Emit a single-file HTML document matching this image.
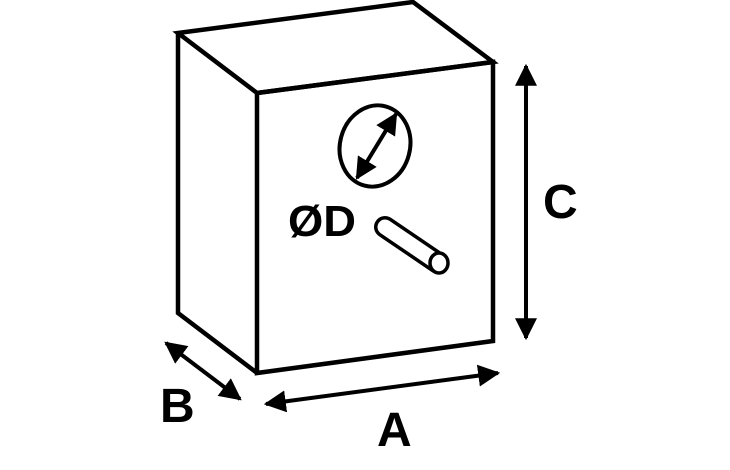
<!DOCTYPE html>
<html><head><meta charset="utf-8"><style>html,body{margin:0;padding:0;background:#fff}svg{display:block}</style></head>
<body>
<svg width="730" height="470" viewBox="0 0 730 470" xmlns="http://www.w3.org/2000/svg">
<defs>
<marker id="ah" viewBox="0 0 10 10" refX="9" refY="5" markerWidth="5.5" markerHeight="6" orient="auto-start-reverse" markerUnits="strokeWidth">
<path d="M0,0 L10,5 L0,10 z" fill="#000"/></marker>
</defs>
<g fill="none" stroke="#000" stroke-width="4.5" stroke-linejoin="miter">
<polygon points="257,93 493,62 493,341 257,373"/>
<polygon points="178,33 413,2 493,62 257,93"/>
<polyline points="178,33 178,313 257,373"/>
<ellipse cx="375" cy="146" rx="35" ry="41" transform="rotate(15 375 146)" stroke-width="4"/>
</g>
<g stroke="#000" stroke-width="4" fill="none" marker-start="url(#ah)" marker-end="url(#ah)">
<line x1="357" y1="178" x2="396" y2="114"/>
<line x1="526" y1="66" x2="526" y2="338"/>
<line x1="166" y1="343" x2="240" y2="399"/>
<line x1="266" y1="404" x2="498" y2="373"/>
</g>
<line x1="385" y1="227" x2="438" y2="263" stroke="#000" stroke-width="22" stroke-linecap="round"/>
<line x1="385" y1="227" x2="438" y2="263" stroke="#fff" stroke-width="15" stroke-linecap="round"/>
<ellipse cx="439" cy="263" rx="9" ry="10" stroke="#000" stroke-width="3.5" fill="#fff"/>
<g font-family="Liberation Sans, sans-serif" font-weight="bold" fill="#000">
<text x="288" y="236" font-size="44" textLength="68" lengthAdjust="spacingAndGlyphs">ØD</text>
<text x="543" y="218" font-size="48">C</text>
<text x="160" y="422" font-size="48">B</text>
<text x="377" y="446" font-size="48">A</text>
</g>
</svg>
</body></html>
